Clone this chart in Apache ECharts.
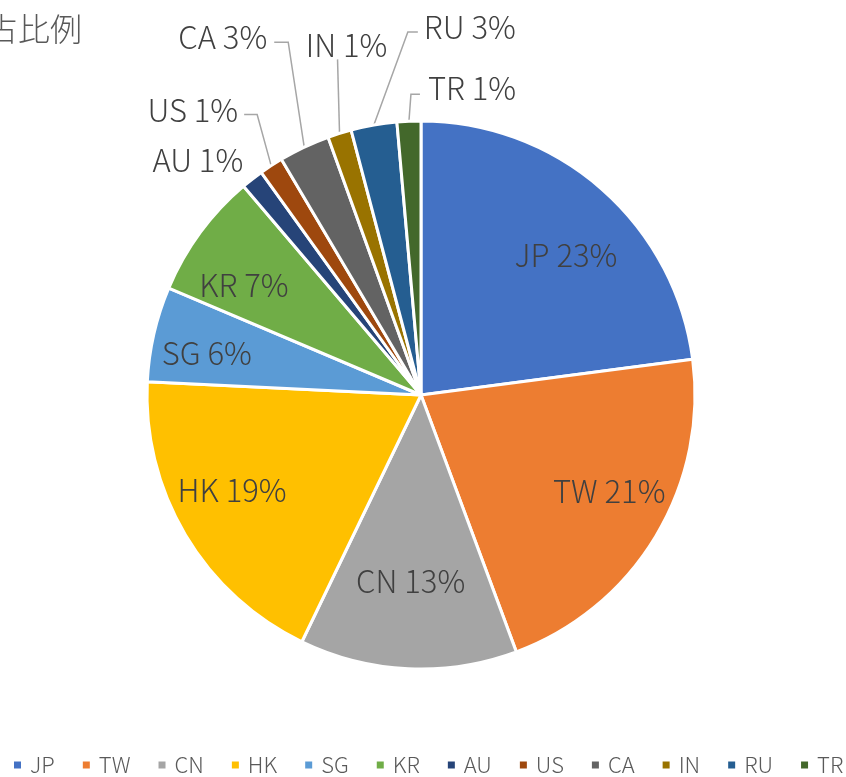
<!DOCTYPE html>
<html lang="ja">
<head>
    <meta charset="UTF-8">
    <title>echarts</title>
    <script src="https://cdn.jsdelivr.net/npm/echarts@6/dist/echarts.min.js"></script>
    <style>html, body { margin: 0; padding: 0; background: #fff; }</style>
</head>
<body>
    <div id="charts1" style="width: 846px;height:777px;"></div>
    <script type="text/javascript">
        // データ
        var regions = ['JP', 'TW', 'CN', 'HK', 'SG', 'KR', 'AU', 'US', 'CA', 'IN', 'RU', 'TR'];
        var shares = [22.9, 21.4, 12.8, 18.6, 5.6, 7.4, 1.3, 1.4, 3.0, 1.4, 2.7, 1.4];
        var colors = ['#4472C4', '#ED7D31', '#A5A5A5', '#FFC000', '#5B9BD5', '#70AD47',
                      '#264478', '#9E480E', '#636363', '#997300', '#255E91', '#43682B'];
        var titleText = '国別占比例';

        var font = '"Noto Sans CJK JP", "Noto Sans", sans-serif';
        var cx = 421, cy = 395, radius = 274;
        // 内側ラベルは横方向に広め、縦方向に狭めに置く
        var insideScaleX = 1.57, insideScaleY = 1.33;

        // 外側ラベル: 縁からの折れ点 dx, dy / 水平線 / ラベルのずれ x, y / 揃え
        var outside = {
            AU: [0, 0, 0, -9, -19, 'right'],
            US: [-14, -51, -13, -6, -4, 'right'],
            CA: [-16, -105, -14, -7, -5, 'right'],
            IN: [-2, -74, 0, 9, -14, 'center'],
            RU: [34, -93, 10, 6, -5, 'left'],
            TR: [2, -27, 9, 8, -6, 'left']
        };

        var myChart = echarts.init(document.getElementById('charts1'));

        var pieData = [];
        for (var i = 0; i < regions.length; i++) {
            var isOut = !!outside[regions[i]];
            pieData.push({
                name: regions[i],
                value: shares[i],
                itemStyle: { color: colors[i] },
                label: { position: isOut ? 'outside' : 'inside' },
                labelLine: { show: isOut }
            });
        }

        var option = {
            animation: false,
            color: colors,
            graphic: [{
                type: 'text',
                x: 82,
                y: 29,
                style: {
                    text: titleText,
                    font: '300 32px ' + font,
                    fill: '#595959',
                    textAlign: 'right',
                    textVerticalAlign: 'middle'
                }
            }],
            legend: {
                left: 12,
                top: 754,
                width: 840,
                padding: 0,
                icon: 'rect',
                itemWidth: 9,
                itemHeight: 9,
                itemGap: 26,
                data: regions,
                textStyle: {
                    fontFamily: font,
                    fontWeight: 300,
                    fontSize: 22,
                    color: '#595959',
                    padding: [0, 0, 0, 3]
                }
            },
            series: [{
                type: 'pie',
                center: [cx, cy],
                radius: radius,
                startAngle: 90,
                clockwise: true,
                avoidLabelOverlap: false,
                emphasis: { disabled: true },
                itemStyle: { borderColor: '#fff', borderWidth: 3 },
                label: {
                    fontFamily: font,
                    fontWeight: 300,
                    fontSize: 31,
                    color: '#404040',
                    formatter: function (p) {
                        return p.name + ' ' + Math.round(p.value) + '%';
                    }
                },
                labelLine: {
                    length: 10,
                    length2: 10,
                    lineStyle: { color: '#A6A6A6', width: 1.5 }
                },
                labelLayout: function (p) {
                    var o = outside[regions[p.dataIndex]];
                    if (o && p.labelLinePoints) {
                        var s = p.labelLinePoints[0];
                        var e = [s[0] + o[0], s[1] + o[1]];
                        var t = [e[0] + o[2], e[1]];
                        return {
                            x: t[0] + o[3],
                            y: e[1] + o[4],
                            align: o[5],
                            verticalAlign: 'middle',
                            labelLinePoints: [s, e, t]
                        };
                    }
                    var r = p.labelRect;
                    var lx = r.x + r.width / 2;
                    var ly = r.y + r.height / 2;
                    return {
                        x: cx + (lx - cx) * insideScaleX,
                        y: cy + (ly - cy) * insideScaleY,
                        align: 'center',
                        verticalAlign: 'middle'
                    };
                },
                data: pieData
            }]
        };
        myChart.setOption(option);
    </script>
</body>
</html>
